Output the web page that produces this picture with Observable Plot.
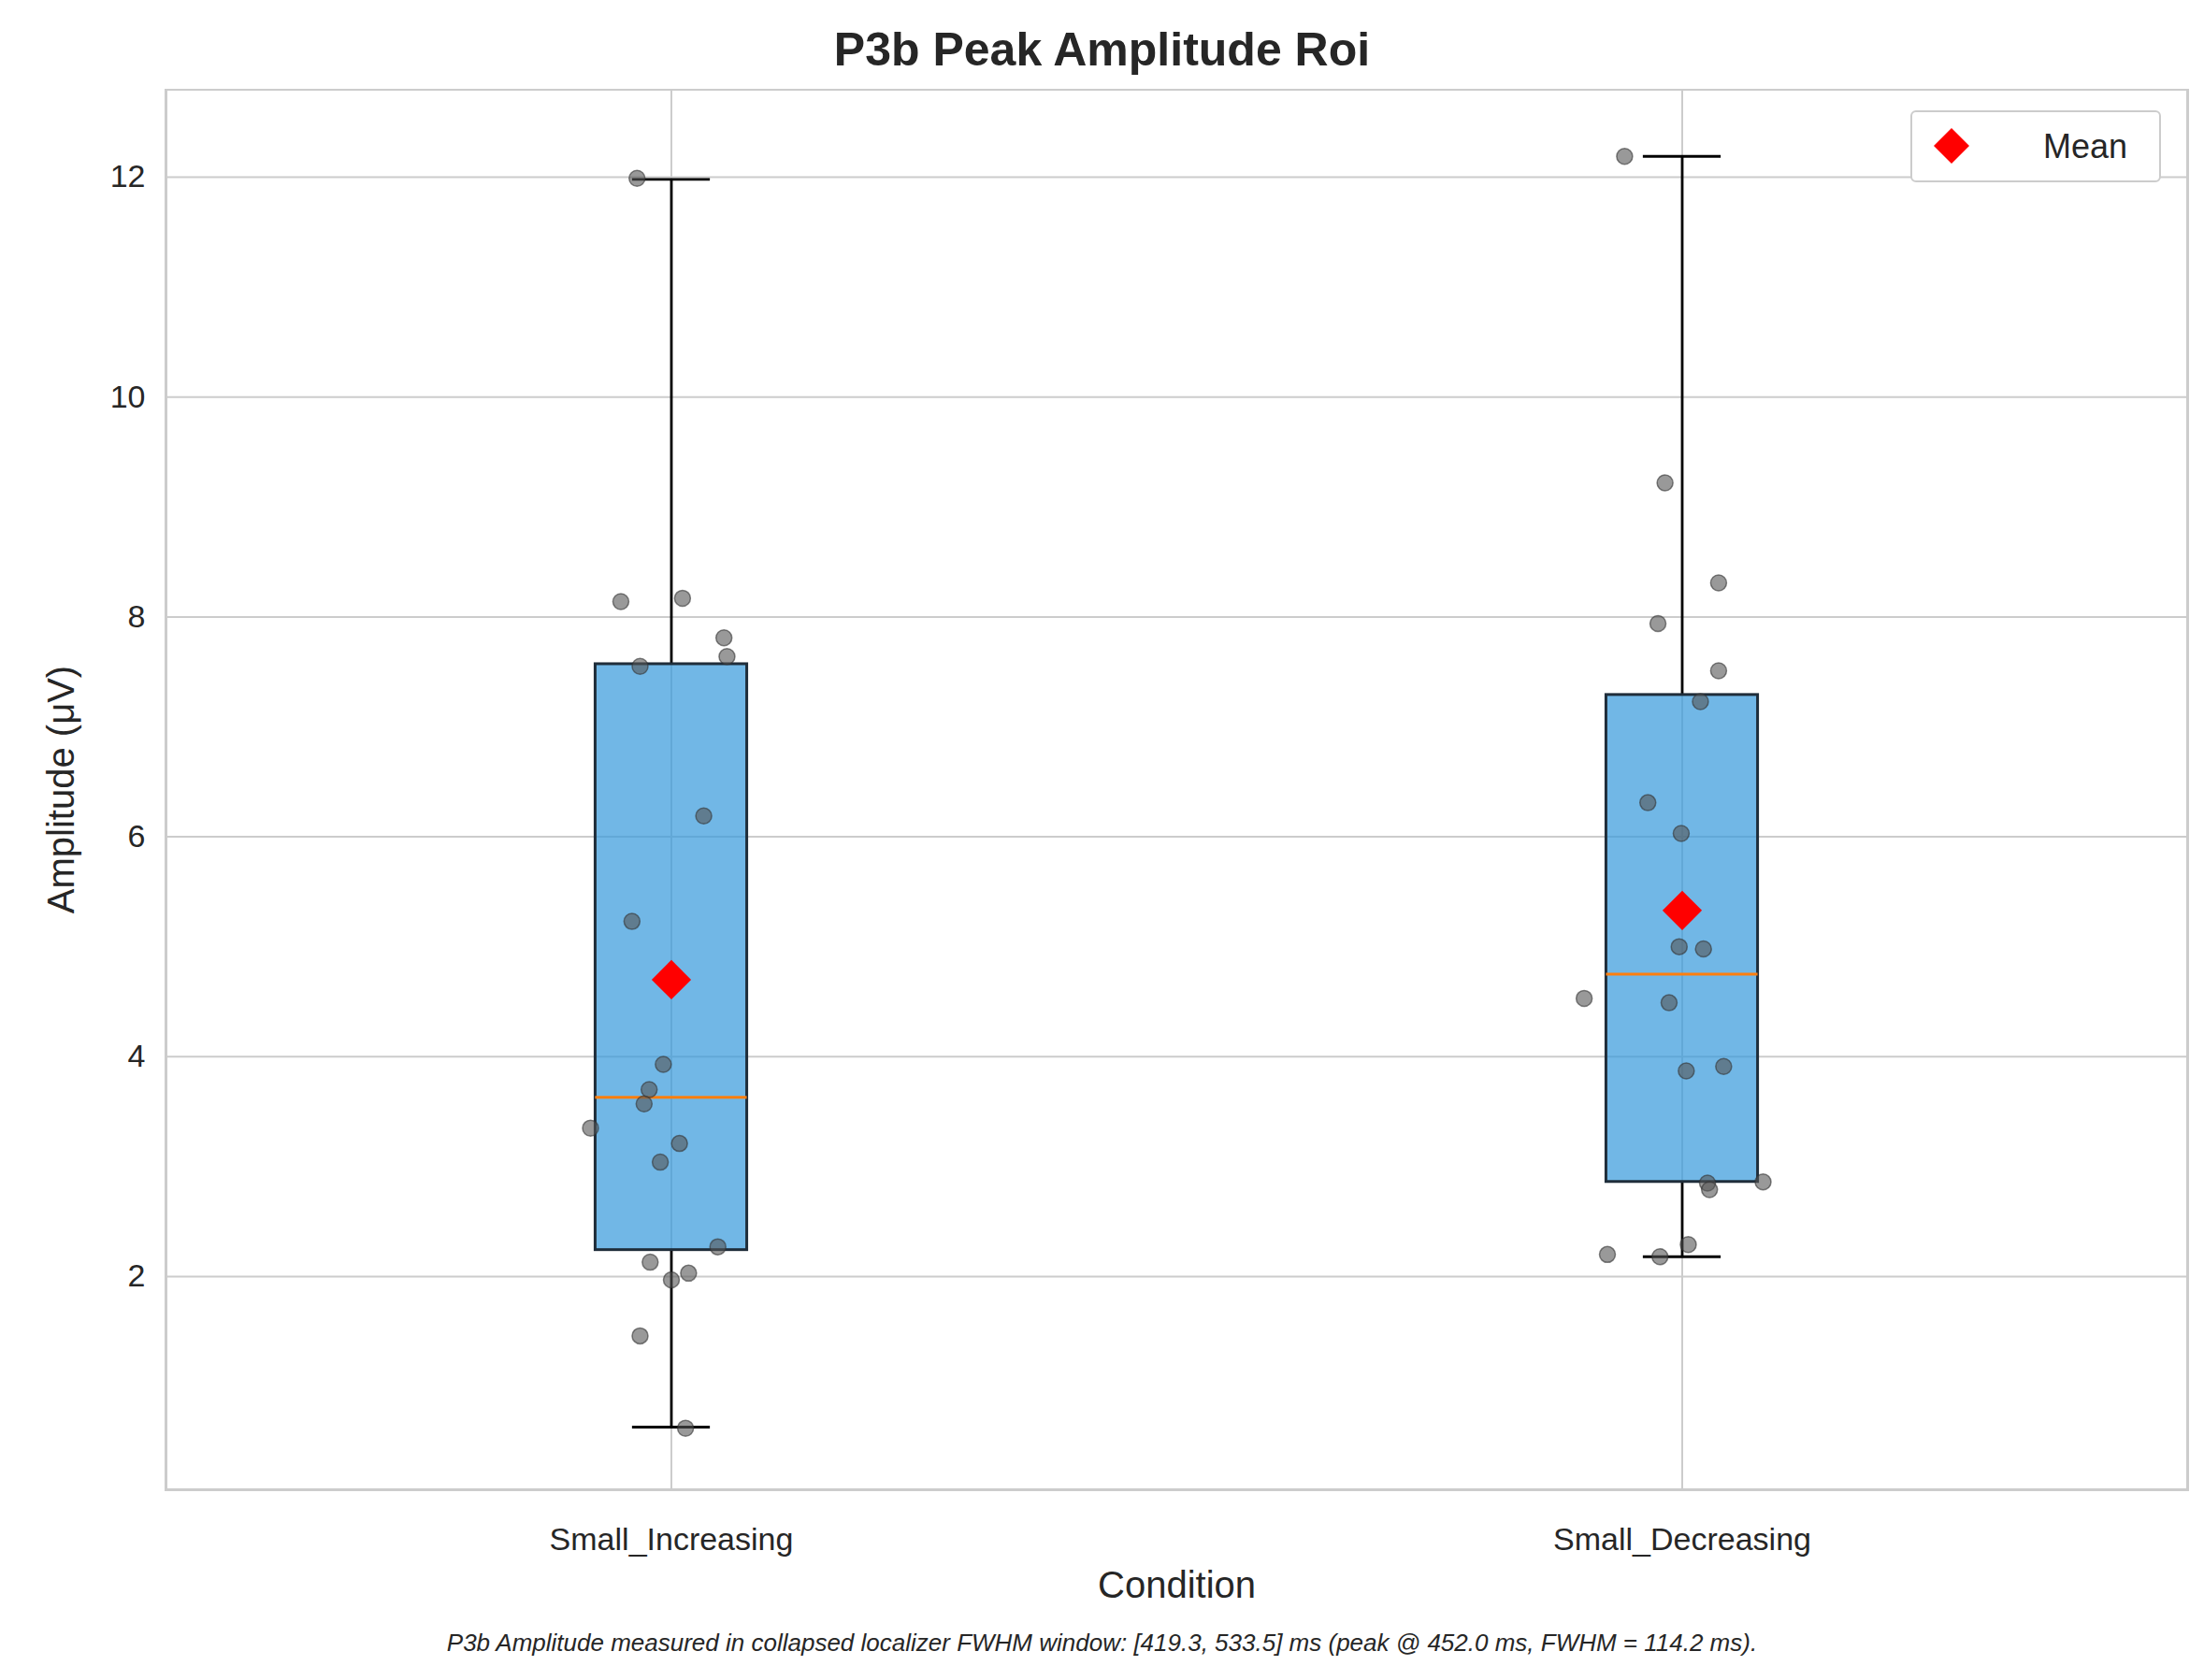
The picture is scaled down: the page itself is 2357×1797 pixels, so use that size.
<!DOCTYPE html>
<html><head><meta charset="utf-8">
<script src="https://cdn.jsdelivr.net/npm/d3@7"></script>
<script src="https://cdn.jsdelivr.net/npm/@observablehq/plot@0.6"></script>
<style>
body{margin:0;background:#fff;font-family:"Liberation Sans",Arial,sans-serif;}
#wrap{position:relative;width:2357px;}
#title{height:95px;line-height:106px;text-align:center;font-weight:bold;font-size:50px;color:#262626;}
#legend{position:absolute;left:2043px;top:118px;width:264px;height:73px;border:2px solid #ccc;border-radius:6px;background:#fff;font-size:36px;color:#262626;}
#caption{text-align:center;font-style:italic;font-size:26px;color:#262626;margin-top:12px;}
#chart svg g[aria-label="x-axis tick label"] text, #chart svg g[aria-label="y-axis tick label"] text{font-size:34px;}
#chart svg g[aria-label="x-axis label"] text, #chart svg g[aria-label="y-axis label"] text{font-size:40px;}
</style></head><body>
<div id="wrap">
<div id="title">P3b Peak Amplitude Roi</div>
<div id="chart"></div>
<div id="legend"><svg width="60" height="73" style="position:absolute;left:12px;top:0"><path d="M30,17 L49,36 L30,55 L11,36Z" fill="red"/></svg><span style="position:absolute;left:140px;top:16px">Mean</span></div>
<div id="caption">P3b Amplitude measured in collapsed localizer FWHM window: [419.3, 533.5] ms (peak @ 452.0 ms, FWHM = 114.2 ms).</div>
</div>
<script>
const conditions = ["Small_Increasing", "Small_Decreasing"];
const incValues = [11.99,8.14,8.17,7.81,7.64,7.55,6.19,5.23,3.93,3.70,3.57,3.35,3.21,3.04,2.27,2.13,2.03,1.97,1.46,0.62];
const incJitter = [-0.034,-0.050,0.011,0.052,0.055,-0.031,0.032,-0.039,-0.008,-0.022,-0.027,-0.080,0.008,-0.011,0.046,-0.021,0.017,0.000,-0.031,0.014];
const decValues = [12.19,9.22,8.31,7.94,7.51,7.23,6.31,6.03,5.00,4.98,4.53,4.49,3.91,3.87,2.86,2.85,2.79,2.29,2.20,2.18];
const decJitter = [-0.057,-0.017,0.036,-0.024,0.036,0.018,-0.034,-0.001,-0.003,0.021,-0.097,-0.013,0.041,0.004,0.080,0.025,0.027,0.006,-0.074,-0.022];
const q1 = [2.24, 2.86], q3 = [7.57, 7.29], medians = [3.63, 4.75];
const whiskLo = [0.63, 2.18], whiskHi = [11.98, 12.19], means = [4.70, 5.33];

const boxes = conditions.map((c, i) => ({c, i, q1: q1[i], q3: q3[i], med: medians[i], lo: whiskLo[i], hi: whiskHi[i], mean: means[i]}));
const points = [
  ...incValues.map((v, k) => ({i: 0, v, j: incJitter[k]})),
  ...decValues.map((v, k) => ({i: 1, v, j: decJitter[k]}))
];
const hw = 0.075, cap = 0.0385;

const chart = Plot.plot({
  width: 2357,
  height: 1635,
  marginTop: 0,
  marginLeft: 177,
  marginRight: 18,
  marginBottom: 137,
  style: {fontFamily: "Liberation Sans, Arial, sans-serif", fontSize: "32px", color: "#262626"},
  x: {domain: [-0.5, 1.5], ticks: [0, 1], tickFormat: d => conditions[d], tickSize: 0, tickPadding: 40, label: "Condition", labelAnchor: "center", labelArrow: "none", labelOffset: 115},
  y: {domain: [0.06, 12.8], ticks: [2, 4, 6, 8, 10, 12], tickSize: 0, tickPadding: 22, label: "Amplitude (μV)", labelAnchor: "center", labelArrow: "none", labelOffset: 127},
  marks: [
    Plot.gridY([2, 4, 6, 8, 10, 12], {stroke: "#cccccc", strokeOpacity: 1, strokeWidth: 2}),
    Plot.gridX([0, 1], {stroke: "#cccccc", strokeOpacity: 1, strokeWidth: 2}),
    Plot.frame({stroke: "#cccccc", strokeWidth: 3}),
    Plot.ruleX(boxes, {x: "i", y1: "lo", y2: "q1", stroke: "black", strokeWidth: 2.8}),
    Plot.ruleX(boxes, {x: "i", y1: "q3", y2: "hi", stroke: "black", strokeWidth: 2.8}),
    Plot.ruleY(boxes, {y: "lo", x1: d => d.i - cap, x2: d => d.i + cap, stroke: "black", strokeWidth: 2.8}),
    Plot.ruleY(boxes, {y: "hi", x1: d => d.i - cap, x2: d => d.i + cap, stroke: "black", strokeWidth: 2.8}),
    Plot.rect(boxes, {x1: d => d.i - hw, x2: d => d.i + hw, y1: "q1", y2: "q3", fill: "#3498db", fillOpacity: 0.7, stroke: "#1f2d3a", strokeWidth: 3}),
    Plot.ruleY(boxes, {y: "med", x1: d => d.i - hw, x2: d => d.i + hw, stroke: "#ff7f0e", strokeWidth: 3}),
    Plot.dot(points, {x: d => d.i + d.j, y: "v", r: 8.5, fill: "#555", fillOpacity: 0.6, stroke: "#333", strokeOpacity: 0.6, strokeWidth: 1.5}),
    Plot.dot(boxes, {x: "i", y: "mean", symbol: "diamond2", r: 19, fill: "red"})
  ]
});
document.getElementById("chart").append(chart);
</script>
</body></html>
